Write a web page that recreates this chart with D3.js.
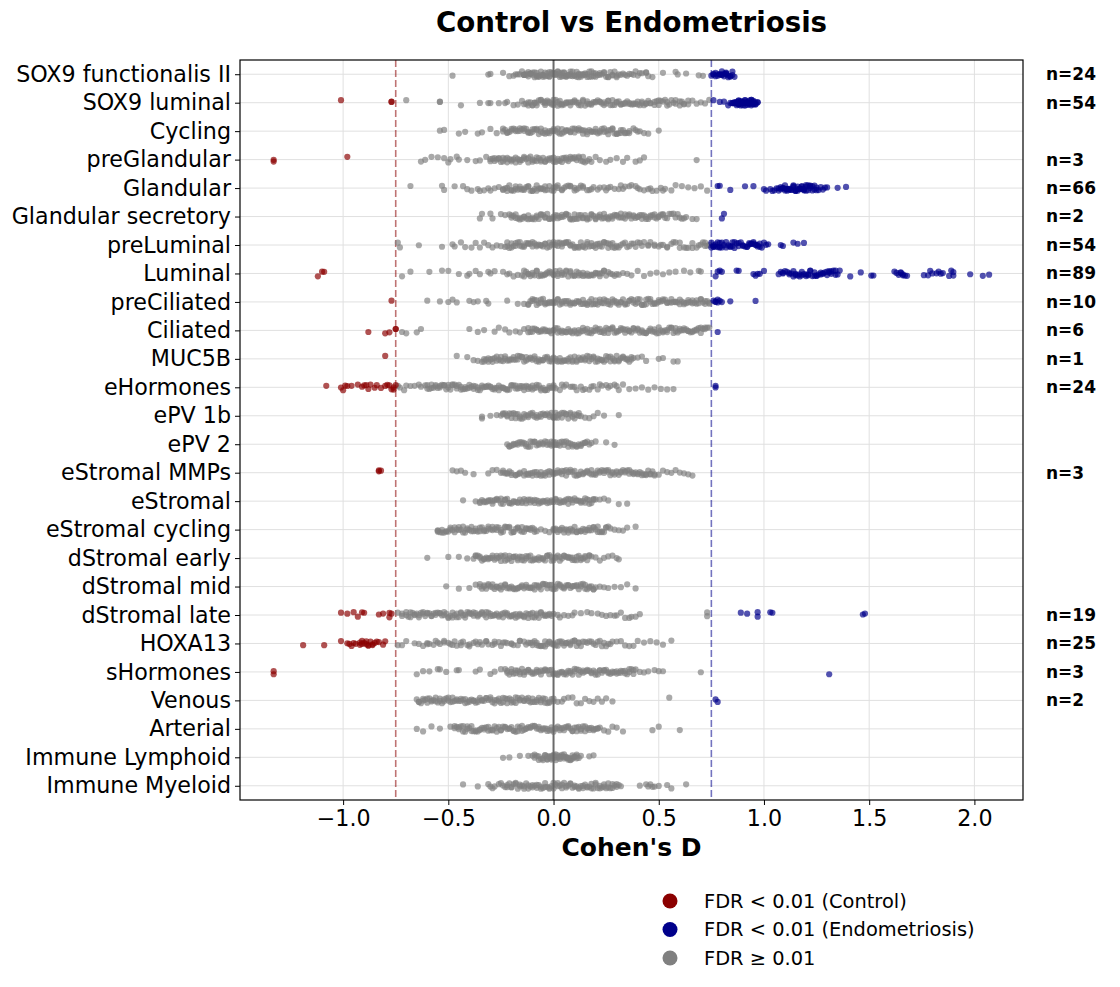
<!DOCTYPE html>
<html>
<head>
<meta charset="utf-8">
<script src="https://cdn.jsdelivr.net/npm/d3@7"></script>
<style>
  body { margin: 0; background: #fff; }
  text { font-family: "DejaVu Sans", sans-serif; }
</style>
</head>
<body>
<div id="canvas"></div>
<script>
"use strict"

/* Cell types, top to bottom */
let categories = ["SOX9 functionalis II", "SOX9 luminal", "Cycling", "preGlandular", "Glandular",
    "Glandular secretory", "preLuminal", "Luminal", "preCiliated", "Ciliated", "MUC5B", "eHormones",
    "ePV 1b", "ePV 2", "eStromal MMPs", "eStromal", "eStromal cycling", "dStromal early",
    "dStromal mid", "dStromal late", "HOXA13", "sHormones", "Venous", "Arterial",
    "Immune Lymphoid", "Immune Myeloid"];

/* Count labels on the right (number of significant genes) */
let nLabels = ["n=24", "n=54", "", "n=3", "n=66", "n=2", "n=54", "n=89", "n=10", "n=6", "n=1", "n=24",
    "", "", "n=3", "", "", "", "", "n=19", "n=25", "n=3", "n=2", "", "", ""];

/* Cohen's D values x100, FDR >= 0.01 (grey) */
let notSignificant = [
    [-48,-31,-30,-24,-21,-19,-18,-17,-16,-15,-14,-14,-13,-12,-11,-11,-10,-9,-8,-8,-7,-6,-5,-5,-4,-3,-2,-2,-1,0,0,0,1,1,2,3,3,4,5,5,6,7,8,8,9,10,11,12,12,13,14,15,16,17,18,19,20,21,22,23,24,25,26,27,28,29,30,31,33,34,36,37,39,40,42,44,45,47,52,58,59,63,69,71,
     -14,-13,-12,-11,-10,-9,-8,-7,-6,-5,-4,-3,-2,-1,0,1,2,3,4,5,6,7,8,9,10,11,12,13,14,15,16,17,18,19,20,22,24,26,28,30,32,35,38,41,44],
    [-70,-54,-54,-44,-35,-31,-30,-26,-23,-22,-19,-17,-15,-14,-13,-12,-11,-10,-9,-9,-8,-7,-6,-5,-4,-4,-3,-2,-1,0,0,1,2,3,3,4,5,6,7,8,9,10,11,12,13,14,15,16,17,18,19,20,21,22,23,24,25,26,27,28,29,30,31,32,33,34,35,36,37,38,39,40,41,42,43,44,45,46,48,49,50,51,53,54,55,57,58,60,61,62,64,66,68,70,72,74,
     -12,-10,-8,-6,-4,-2,0,2,4,6,8,10,12,14,16,18,20,22,24,26,28,30,32,34,36,38,40,42,44,46,48,50,52,54,56,58,60,62,64],
    [-54,-52,-45,-42,-36,-34,-30,-27,-24,-23,-22,-21,-20,-19,-18,-17,-16,-15,-14,-13,-12,-11,-10,-9,-8,-7,-6,-5,-4,-3,-2,-1,0,1,2,3,4,5,6,7,8,9,10,11,12,13,14,15,16,17,18,19,20,21,22,23,24,25,26,27,28,29,30,31,32,33,34,35,36,38,39,41,43,45,50,
     -24,-22,-20,-18,-16,-14,-12,-10,-8,-6,-4,-2,0,2,4,6,8,10,12,14,16,18,20,22,24,26,28,30,32,34,36,40],
    [-63,-61,-58,-55,-52,-50,-49,-46,-45,-41,-37,-35,-32,-30,-29,-28,-27,-26,-25,-24,-23,-22,-21,-20,-19,-18,-17,-16,-15,-14,-13,-12,-11,-10,-9,-8,-7,-6,-5,-4,-3,-2,-1,0,1,2,3,4,5,6,7,8,9,10,11,12,13,14,15,17,18,20,22,25,27,30,33,35,39,41,43,68,
     -30,-28,-26,-24,-22,-20,-18,-16,-14,-12,-10,-8,-6,-4,-2,0,2,4,6,8,10,12,14,16],
    [-68,-53,-52,-47,-43,-41,-39,-36,-35,-33,-31,-30,-28,-26,-24,-23,-22,-21,-20,-19,-18,-17,-16,-15,-14,-13,-12,-11,-10,-9,-8,-7,-6,-5,-4,-3,-1,0,1,2,4,5,7,8,10,11,13,14,16,17,19,21,22,24,26,27,29,31,32,34,36,37,39,41,43,45,47,49,51,53,56,58,61,64,67,70,73,
     -24,-22,-20,-18,-16,-14,-12,-10,-8,-6,-4,-2,0,2,4,6,8,10,12,14,18,25,33,40,46,52],
    [-35,-34,-30,-29,-25,-23,-21,-20,-19,-18,-17,-16,-15,-14,-13,-12,-11,-10,-9,-8,-7,-6,-5,-4,-3,-2,-1,0,1,2,3,4,5,6,7,8,9,10,11,12,13,14,15,16,17,18,19,20,21,22,23,24,25,26,27,28,29,30,31,32,33,34,35,36,37,38,39,40,41,42,43,44,45,46,47,48,49,50,51,52,53,55,57,59,61,63,66,68,
     -20,-18,-16,-14,-12,-10,-8,-6,-4,-2,0,2,4,6,8,10,12,14,16,18,20,22,24,26,28,30,32,34,36,38,40,42,44,46,48,50,52,54,56,58,60,62],
    [-74,-73,-64,-53,-48,-47,-44,-42,-39,-37,-35,-33,-31,-29,-27,-25,-23,-22,-21,-20,-19,-18,-17,-16,-15,-14,-13,-12,-11,-10,-9,-8,-7,-6,-5,-4,-3,-2,-1,0,1,2,3,4,5,6,7,8,9,10,11,12,13,14,15,16,17,18,19,20,21,22,23,24,25,26,27,28,29,30,31,32,34,35,37,38,40,41,43,45,46,48,50,52,54,56,58,60,62,64,66,68,70,71,72,73,74,
     -22,-20,-18,-16,-14,-12,-10,-8,-6,-4,-2,0,2,4,6,8,10,12,14,16,18,20,22,24,26,28,30,33,36,39,42,45,48,51,54,57,60,63,66,69,72],
    [-72,-68,-59,-53,-50,-45,-41,-40,-37,-35,-31,-30,-28,-24,-22,-21,-19,-17,-15,-14,-13,-12,-11,-10,-9,-8,-7,-6,-5,-4,-3,-2,-1,0,1,2,3,4,5,6,7,8,9,10,11,12,13,14,15,16,17,18,19,20,21,22,23,24,25,26,28,29,31,33,35,37,40,43,46,49,52,55,58,62,65,69,70,
     -14,-12,-10,-8,-6,-4,-2,0,2,4,6,8,10,12,14,16,18,20,22,24,27,30],
    [-60,-54,-50,-48,-46,-40,-38,-36,-32,-31,-22,-17,-14,-12,-11,-10,-9,-8,-7,-6,-5,-4,-3,-2,-1,0,1,2,3,4,5,6,7,8,9,10,11,12,13,14,15,16,17,18,19,20,21,22,23,24,25,26,27,28,29,30,31,32,33,34,35,36,37,38,39,40,41,42,43,44,45,46,47,48,49,50,51,52,53,54,55,56,57,58,59,60,61,62,63,64,65,66,67,68,69,70,71,72,73,74,
     -12,-10,-8,-6,-4,-2,0,2,4,6,8,10,12,14,16,18,20,22,24,26,28,30,32,34,36,38,40,42,44,46,48,50,52,54,56,58,60,62,64,66,68,70,72,74],
    [-72,-70,-65,-63,-40,-36,-33,-28,-26,-23,-21,-18,-16,-14,-12,-11,-10,-9,-8,-7,-6,-5,-4,-3,-2,-1,0,1,2,3,4,5,6,7,8,9,10,11,12,13,14,15,16,17,18,19,20,21,22,23,24,25,26,27,28,29,30,31,32,33,34,35,36,37,38,39,40,41,42,43,44,45,46,47,48,49,50,51,52,53,54,55,56,57,58,59,60,61,62,63,64,65,66,67,68,69,70,71,72,73,74,
     -12,-10,-8,-6,-4,-2,0,2,4,6,8,10,12,14,16,18,20,22,24,26,28,30,32,34,36,38,40,42,44,46,48,50,52,54,56,58,60,62,64,66,68,70,72],
    [-46,-41,-38,-36,-34,-33,-32,-31,-30,-29,-28,-27,-26,-25,-24,-23,-22,-21,-20,-19,-18,-17,-16,-15,-14,-13,-12,-11,-10,-9,-8,-7,-6,-5,-4,-3,-2,-1,0,1,2,3,4,5,6,7,8,9,10,11,12,13,14,15,16,17,18,19,20,21,22,23,24,25,26,27,28,29,30,31,32,33,34,35,36,37,38,40,42,44,50,52,57,59,
     -33,-31,-29,-27,-25,-23,-21,-19,-17,-15,-13,-11,-9,-7,-5,-3,-1,1,3,5,7,9,11,13,15,17,19,21,23,25,27,29,31,33,35,37],
    [-74,-73,-71,-70,-68,-66,-64,-63,-61,-60,-59,-58,-57,-56,-55,-54,-53,-52,-51,-50,-49,-48,-47,-46,-45,-44,-43,-42,-41,-40,-39,-38,-37,-36,-35,-34,-33,-32,-31,-30,-29,-28,-27,-26,-25,-24,-23,-22,-21,-20,-19,-18,-17,-16,-15,-14,-13,-12,-11,-10,-9,-8,-7,-6,-5,-4,-3,-2,-1,0,1,3,4,6,8,9,11,13,15,17,19,21,23,25,27,29,31,33,36,39,42,45,48,51,54,57,
     -60,-58,-56,-54,-52,-50,-48,-46,-44,-42,-40,-38,-36,-34,-32,-30,-28,-26,-24,-22,-20,-18,-16,-14,-12,-10,-8,-6,-4,-2,0,5,10,14,18,22,26,30],
    [-34,-34,-30,-27,-25,-24,-23,-22,-21,-20,-19,-18,-17,-16,-15,-14,-13,-12,-11,-10,-9,-8,-7,-6,-5,-4,-3,-2,-1,0,0,1,1,2,3,4,5,6,7,8,9,10,11,12,13,15,17,19,21,24,31,
     -24,-22,-20,-18,-16,-14,-12,-10,-8,-6,-4,-2,0,2,4,6,8,10,12],
    [-22,-21,-20,-19,-18,-17,-16,-15,-14,-13,-12,-11,-10,-9,-8,-7,-6,-5,-4,-3,-2,-1,0,0,1,1,2,3,4,5,6,7,8,9,10,11,12,13,14,15,16,17,18,20,25,29,
     -21,-19,-17,-15,-13,-11,-9,-7,-5,-3,-1,1,3,5,7,9,11,13,15],
    [-48,-46,-44,-42,-38,-31,-29,-27,-25,-24,-23,-22,-21,-20,-18,-17,-16,-14,-13,-12,-11,-10,-9,-8,-7,-6,-5,-4,-3,-2,-1,0,1,2,3,4,5,6,7,8,9,10,11,12,13,14,15,16,17,18,19,20,21,22,23,24,25,26,27,28,29,30,31,32,33,34,35,36,37,38,39,40,41,42,43,44,45,46,47,48,50,52,54,56,58,60,62,64,66,
     -24,-22,-20,-18,-16,-14,-12,-10,-8,-6,-4,-2,0,2,4,6,8,10,12,14,16,18,20,22,24,26,28,30,32,34,36,38,40,42,44,46,48],
    [-43,-37,-35,-34,-33,-32,-31,-30,-29,-28,-27,-26,-25,-24,-23,-22,-21,-20,-19,-18,-17,-16,-15,-14,-13,-12,-11,-10,-9,-8,-7,-6,-5,-4,-3,-2,-1,0,1,2,3,4,5,6,7,8,9,10,11,12,13,14,15,16,17,18,19,20,22,24,26,31,35,
     -35,-33,-31,-29,-27,-25,-23,-21,-19,-17,-15,-13,-11,-9,-7,-5,-3,-1,1,3,5,7,9,11,13,15,17,19],
    [-55,-55,-54,-53,-52,-51,-50,-49,-48,-47,-46,-45,-44,-43,-42,-41,-40,-39,-38,-37,-36,-35,-34,-33,-32,-31,-30,-29,-28,-27,-26,-25,-24,-23,-22,-21,-20,-19,-18,-17,-16,-15,-14,-13,-12,-11,-10,-9,-8,-6,-4,-2,0,0,1,2,3,4,5,6,7,8,9,10,11,12,13,14,15,16,17,18,19,20,21,22,23,24,25,26,27,29,31,33,35,39,
     -55,-53,-51,-49,-47,-45,-43,-41,-39,-37,-35,-33,-31,-29,-27,-25,-23,-21,-19,-17,-15,-13,-11,-9,1,3,5,7,9,11,13,15,17,19,21,23,25],
    [-60,-50,-45,-41,-38,-37,-36,-35,-34,-33,-32,-31,-30,-29,-28,-27,-26,-25,-24,-23,-22,-21,-20,-19,-18,-17,-16,-15,-14,-13,-12,-11,-10,-9,-8,-7,-6,-5,-4,-3,-2,-1,0,1,2,3,4,5,6,7,8,9,10,11,12,13,14,15,16,17,18,20,22,24,26,28,30,31,
     -37,-35,-33,-31,-29,-27,-25,-23,-21,-19,-17,-15,-13,-11,-9,-7,-5,-3,-1,1,3,5,7,9,11,13,15,17],
    [-51,-45,-40,-37,-35,-34,-33,-32,-31,-30,-29,-28,-27,-26,-25,-24,-23,-22,-21,-20,-19,-18,-17,-16,-15,-14,-13,-12,-11,-10,-9,-8,-7,-6,-5,-4,-3,-2,-1,0,1,2,3,4,5,6,7,8,9,10,11,12,13,14,15,16,17,18,19,20,22,24,26,29,32,35,39,
     -35,-33,-31,-29,-27,-25,-23,-21,-19,-17,-15,-13,-11,-9,-7,-5,-3,-1,1,3,5,7,9,11,13,15,17,19],
    [-74,-72,-70,-69,-68,-67,-66,-65,-64,-63,-62,-61,-60,-59,-58,-57,-56,-55,-54,-53,-52,-51,-50,-49,-48,-47,-46,-45,-44,-43,-42,-41,-40,-39,-38,-37,-36,-35,-34,-33,-32,-31,-30,-29,-28,-27,-26,-25,-24,-23,-22,-21,-20,-19,-18,-17,-16,-15,-14,-13,-12,-11,-10,-9,-8,-7,-6,-5,-4,-3,-2,-1,0,2,3,5,7,9,10,13,16,18,21,23,25,27,29,30,32,34,36,37,39,41,73,73,
     -72,-70,-68,-66,-64,-62,-60,-58,-56,-54,-52,-50,-48,-46,-44,-42,-40,-38,-36,-34,-32,-30,-28,-26,-24,-22,-20,-18,-16,-14,-12,-10,-8,-6,-4,-2],
    [-74,-72,-70,-66,-64,-62,-60,-59,-57,-55,-54,-52,-50,-49,-47,-46,-44,-43,-41,-40,-38,-37,-35,-34,-32,-31,-29,-28,-26,-25,-23,-22,-20,-19,-17,-16,-14,-13,-11,-10,-9,-8,-7,-6,-5,-4,-3,-2,-1,0,1,2,3,4,5,6,7,8,9,10,11,12,13,15,16,18,19,21,22,24,25,27,28,30,32,34,36,38,40,43,46,49,52,56,
     -60,-56,-52,-48,-44,-40,-36,-32,-28,-24,-20,-16,-12,-10,-8,-6,-4,-2,0,2,4,6,8,10,12,14,17,20,23,26],
    [-65,-62,-59,-55,-54,-51,-46,-45,-37,-35,-30,-28,-25,-23,-22,-21,-20,-19,-18,-17,-16,-15,-14,-13,-12,-11,-10,-9,-8,-7,-6,-5,-4,-3,-2,-1,0,1,2,3,4,5,6,7,8,9,10,11,12,13,14,15,16,17,18,19,20,21,22,23,24,25,26,27,28,29,30,31,32,33,34,35,36,37,38,39,41,43,45,48,50,52,70,
     -22,-20,-18,-16,-14,-12,-10,-8,-6,-4,-2,0,2,4,6,8,10,12,14,16,18,20,22,24,26,28,30,32,34,36,38],
    [-65,-64,-63,-62,-61,-60,-59,-58,-57,-56,-55,-54,-53,-52,-51,-50,-49,-48,-47,-46,-45,-44,-43,-42,-41,-40,-39,-38,-37,-36,-35,-34,-33,-32,-31,-30,-29,-28,-27,-26,-25,-24,-23,-22,-21,-20,-19,-18,-17,-16,-15,-14,-13,-12,-11,-10,-9,-8,-7,-6,-5,-4,-3,-2,-1,0,2,4,5,7,9,11,13,15,17,19,21,23,25,28,55,
     -64,-62,-60,-58,-56,-54,-52,-50,-48,-46,-44,-42,-40,-38,-36,-34,-32,-30,-28,-26,-24,-22,-20,-18,-16,-14,-12,-10,-8,-6,-4,-2,0],
    [-65,-62,-58,-54,-49,-47,-46,-45,-44,-43,-42,-41,-40,-39,-38,-37,-36,-35,-34,-33,-32,-31,-30,-29,-28,-27,-26,-25,-24,-23,-22,-21,-20,-19,-18,-17,-16,-15,-14,-13,-12,-11,-10,-9,-8,-7,-6,-5,-4,-3,-2,-1,0,1,2,3,4,5,6,7,8,9,10,11,12,13,14,15,16,17,18,19,20,21,22,24,26,28,30,33,47,50,60,
     -47,-45,-43,-41,-39,-37,-35,-33,-31,-29,-27,-25,-23,-21,-19,-17,-15,-13,-11,-9,-7,-5,-3,-1,1,3,5,7,9,11,13,15,17,19,21],
    [-24,-21,-16,-12,-10,-9,-8,-7,-6,-5,-4,-4,-3,-3,-2,-2,-1,-1,0,0,0,1,1,2,2,3,3,4,4,5,5,6,6,7,7,8,8,9,9,10,10,11,11,12,13,17,19,
     -9,-7,-5,-3,-1,1,3,5,7,9,11],
    [-43,-36,-31,-29,-25,-23,-22,-21,-20,-19,-18,-17,-16,-15,-14,-13,-12,-11,-10,-9,-8,-7,-6,-5,-4,-3,-2,-1,0,1,2,3,4,5,6,7,8,9,10,11,12,13,14,15,16,17,18,19,20,21,22,23,24,25,26,27,28,29,30,31,32,41,44,45,46,47,48,50,54,56,63,
     -30,-28,-26,-24,-22,-20,-18,-16,-14,-12,-10,-8,-6,-4,-2,0,2,4,6,8,10,12,14,16,18,20,22,24,26,28,30]
];

/* Cohen's D values x100, FDR < 0.01 higher in Control (red) */
let controlHigh = [
    [], [-101,-77,-77], [], [-133,-133,-98], [], [], [],
    [-112,-110,-109], [-77], [-88,-80,-78,-75,-75], [-80],
    [-108,-101,-100,-99,-98,-96,-93,-91,-90,-89,-88,-87,-85,-84,-82,-80,-79,-78,-77,-76,-76,-75],
    [], [], [-83,-83,-82], [], [], [], [],
    [-101,-98,-95,-93,-91,-90,-83,-81,-78,-78,-77],
    [-119,-109,-101,-98,-97,-96,-95,-94,-92,-92,-91,-91,-90,-89,-89,-88,-88,-87,-86,-86,-85,-84,-83,-81,-80],
    [-133,-133], [], [], [], []
];

/* Cohen's D values x100, FDR < 0.01 higher in Endometriosis (blue) */
let endoHigh = [
    [75,76,76,77,77,78,78,79,79,80,80,80,81,81,82,82,82,83,83,84,84,85,85,86],
    [76,79,81,83,84,85,85,86,86,87,87,88,88,88,89,89,89,90,90,90,91,91,91,92,92,92,93,93,93,94,94,94,95,95,95,96,96,96,97,97,86,88,90,92,94,89,91,93,95,87,90],
    [], [],
    [78,79,84,91,95,100,101,103,104,105,106,107,107,108,108,109,109,110,110,111,111,112,112,113,113,114,114,115,115,116,116,117,117,118,118,119,119,120,120,121,121,122,122,123,123,124,124,125,125,126,127,128,129,130,135,139,110,112,114,116,118,120,122,111,115,119],
    [80,81],
    [75,75,76,76,77,77,78,78,79,79,80,80,81,82,83,84,84,85,86,87,88,88,89,90,91,92,93,94,94,95,95,96,96,97,97,98,99,100,101,102,108,109,114,116,119,82,86,90,93,98,76,79,85,92],
    [77,78,80,87,88,95,96,98,100,107,108,109,110,111,112,113,114,115,116,117,118,119,120,120,121,122,123,124,125,126,127,128,129,130,131,132,133,134,135,136,141,146,151,152,162,163,164,165,166,167,168,176,178,180,182,184,185,189,190,190,198,204,207,112,115,118,122,125,128,131,117,124,130,134,165,179,183,79,97,109,114,121,127,132,166,188],
    [76,77,77,78,78,79,80,84,96],
    [78], [], [77,77], [], [], [], [], [], [], [],
    [89,92,97,97,103,104,147,148],
    [], [131], [77,78], [], [], []
];

let xTicks = [-1.0, -0.5, 0.0, 0.5, 1.0, 1.5, 2.0];
let threshold = 0.75;

let legendLabels = ["FDR < 0.01 (Control)", "FDR < 0.01 (Endometriosis)", "FDR \u2265 0.01"];

/* Drawing configuration */
let svgWidth = 1120;
let svgHeight = 987;
let plotLeft = 240, plotRight = 1023, plotTop = 60, plotBottom = 800;
let red = "#8b0000", blue = "#00008b", grey = "#808080";

let svg = d3.select("#canvas")
    .append("svg")
    .attr("width", svgWidth)
    .attr("height", svgHeight);

let xScale = d3.scaleLinear()
    .domain([-1.49, 2.231])
    .range([plotLeft, plotRight]);

let yScale = d3.scalePoint()
    .domain(categories)
    .range([plotTop, plotBottom])
    .padding(0.5);

/* grid */
svg.append("g")
    .selectAll("line")
    .data(xTicks)
    .join("line")
    .attr("x1", d => xScale(d)).attr("x2", d => xScale(d))
    .attr("y1", plotTop).attr("y2", plotBottom)
    .attr("stroke", "#e0e0e0").attr("stroke-width", 1);

svg.append("g")
    .selectAll("line")
    .data(categories)
    .join("line")
    .attr("x1", plotLeft).attr("x2", plotRight)
    .attr("y1", d => yScale(d)).attr("y2", d => yScale(d))
    .attr("stroke", "#e0e0e0").attr("stroke-width", 1);

/* threshold lines */
svg.append("line")
    .attr("x1", xScale(-threshold)).attr("x2", xScale(-threshold))
    .attr("y1", plotTop).attr("y2", plotBottom)
    .attr("stroke", red).attr("stroke-opacity", 0.55)
    .attr("stroke-width", 1.6).attr("stroke-dasharray", "7,3");

svg.append("line")
    .attr("x1", xScale(threshold)).attr("x2", xScale(threshold))
    .attr("y1", plotTop).attr("y2", plotBottom)
    .attr("stroke", blue).attr("stroke-opacity", 0.55)
    .attr("stroke-width", 1.6).attr("stroke-dasharray", "7,3");

/* strip-plot jitter: a fixed offset per point, derived from its index */
function jitterFor(i, r) {
    let h = Math.sin((i + 1) * 12.9898 + (r + 1) * 78.233) * 43758.5453;
    return (h - Math.floor(h) - 0.5) * 6;
}

function rowPoints(values, color, rowIndex) {
    return values.map((v, i) => ({
        value: v / 100,
        cat: categories[rowIndex],
        color: color,
        jitter: jitterFor(i, rowIndex)
    }));
}

let points = [];
categories.forEach((c, r) => {
    points = points.concat(rowPoints(notSignificant[r], grey, r));
    points = points.concat(rowPoints(controlHigh[r], red, r));
    points = points.concat(rowPoints(endoHigh[r], blue, r));
});

svg.append("g")
    .selectAll("circle")
    .data(points)
    .join("circle")
    .attr("cx", d => xScale(d.value))
    .attr("cy", d => yScale(d.cat) + d.jitter)
    .attr("r", 3.1)
    .attr("fill", d => d.color)
    .attr("fill-opacity", 0.68);

/* zero line */
svg.append("line")
    .attr("x1", xScale(0)).attr("x2", xScale(0))
    .attr("y1", plotTop).attr("y2", plotBottom)
    .attr("stroke", "#6a6a6a").attr("stroke-width", 2);

/* frame */
svg.append("rect")
    .attr("x", plotLeft).attr("y", plotTop)
    .attr("width", plotRight - plotLeft).attr("height", plotBottom - plotTop)
    .attr("fill", "none").attr("stroke", "black").attr("stroke-width", 1.2);

/* axes */
let xAxis = svg.append("g")
    .attr("transform", `translate(0,${plotBottom})`)
    .call(d3.axisBottom(xScale).tickValues(xTicks).tickFormat(d3.format(".1f")).tickSize(5).tickPadding(5));

let yAxis = svg.append("g")
    .attr("transform", `translate(${plotLeft},0)`)
    .call(d3.axisLeft(yScale).tickSize(5).tickPadding(4));

[xAxis, yAxis].forEach(a => {
    a.select(".domain").remove();
    a.selectAll("line").attr("stroke", "black");
    a.selectAll("text")
        .attr("fill", "black")
        .style("font-size", "22.2px")
        .style("font-family", "DejaVu Sans, sans-serif");
});

/* n labels */
svg.append("g")
    .selectAll("text")
    .data(categories)
    .join("text")
    .attr("x", 1046)
    .attr("y", d => yScale(d))
    .attr("dy", "0.35em")
    .attr("font-size", "17px")
    .attr("font-weight", "bold")
    .text((d, i) => nLabels[i]);

/* title and axis label */
svg.append("text")
    .attr("x", (plotLeft + plotRight) / 2)
    .attr("y", 32)
    .attr("text-anchor", "middle")
    .attr("font-size", "27.7px")
    .attr("font-weight", "bold")
    .text("Control vs Endometriosis");

svg.append("text")
    .attr("x", (plotLeft + plotRight) / 2)
    .attr("y", 856)
    .attr("text-anchor", "middle")
    .attr("font-size", "25px")
    .attr("font-weight", "bold")
    .text("Cohen's D");

/* legend */
let legendColors = [red, blue, grey];
let legend = svg.append("g");
legendLabels.forEach((label, i) => {
    legend.append("circle")
        .attr("cx", 670)
        .attr("cy", 901 + i * 28.5)
        .attr("r", 7.5)
        .attr("fill", legendColors[i]);
    legend.append("text")
        .attr("x", 704)
        .attr("y", 901 + i * 28.5)
        .attr("dy", "0.35em")
        .attr("font-size", "19.4px")
        .text(label);
});
</script>
</body>
</html>
